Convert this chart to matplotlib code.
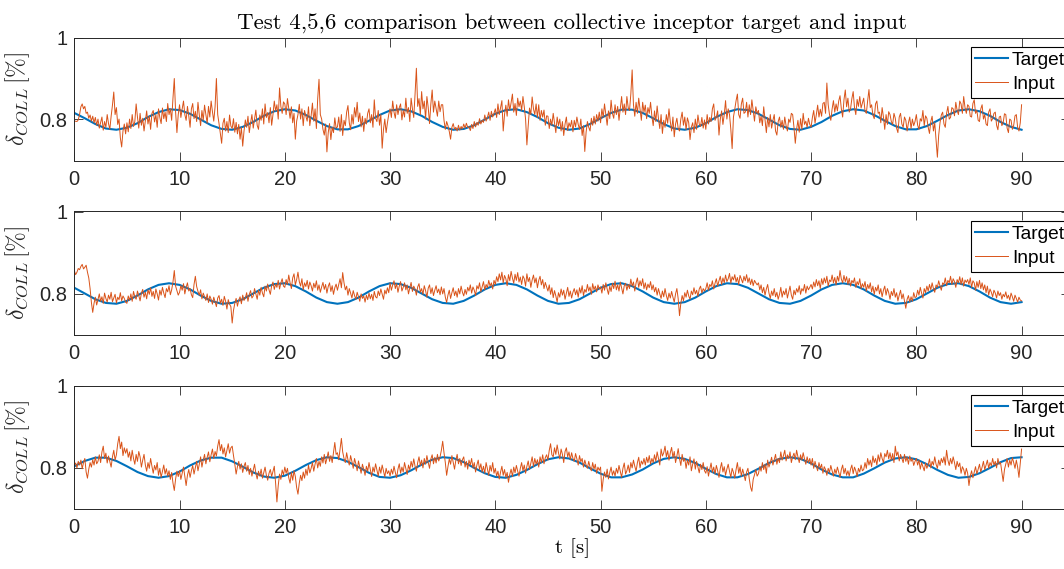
import numpy as np
import matplotlib
matplotlib.use('Agg')
import matplotlib.pyplot as plt

plt.rcParams['font.family'] = ['Liberation Sans', 'DejaVu Sans']
plt.rcParams['mathtext.fontset'] = 'cm'

###########################
# target signals, sampled every 1 s (t = 0..90)
t_target = np.arange(0, 91, 1.0)

target1 = [0.816, 0.803, 0.789, 0.778, 0.775, 0.780, 0.791, 0.806, 0.818, 0.825,
           0.823, 0.814, 0.800, 0.786, 0.777, 0.775, 0.782, 0.794, 0.809, 0.820,
           0.825, 0.822, 0.811, 0.797, 0.784, 0.776, 0.776, 0.784, 0.797, 0.811,
           0.822, 0.825, 0.820, 0.809, 0.794, 0.782, 0.775, 0.777, 0.786, 0.800,
           0.814, 0.823, 0.825, 0.818, 0.806, 0.791, 0.780, 0.775, 0.778, 0.789,
           0.803, 0.816, 0.824, 0.824, 0.816, 0.803, 0.789, 0.778, 0.775, 0.780,
           0.791, 0.806, 0.818, 0.825, 0.823, 0.814, 0.800, 0.786, 0.777, 0.775,
           0.782, 0.794, 0.809, 0.820, 0.825, 0.822, 0.811, 0.797, 0.784, 0.776,
           0.776, 0.784, 0.797, 0.811, 0.822, 0.825, 0.820, 0.809, 0.794, 0.782,
           0.775]

target2 = [0.814, 0.800, 0.786, 0.777, 0.775, 0.782, 0.795, 0.810, 0.821, 0.825,
           0.821, 0.810, 0.795, 0.782, 0.775, 0.777, 0.786, 0.800, 0.814, 0.823,
           0.825, 0.818, 0.805, 0.790, 0.779, 0.775, 0.779, 0.790, 0.805, 0.818,
           0.825, 0.823, 0.814, 0.800, 0.786, 0.777, 0.775, 0.782, 0.795, 0.810,
           0.821, 0.825, 0.821, 0.810, 0.795, 0.782, 0.775, 0.777, 0.786, 0.800,
           0.814, 0.823, 0.825, 0.818, 0.805, 0.790, 0.779, 0.775, 0.779, 0.790,
           0.805, 0.818, 0.825, 0.823, 0.814, 0.800, 0.786, 0.777, 0.775, 0.782,
           0.795, 0.810, 0.821, 0.825, 0.821, 0.810, 0.795, 0.782, 0.775, 0.777,
           0.786, 0.800, 0.814, 0.823, 0.825, 0.818, 0.805, 0.790, 0.779, 0.775,
           0.779]

target3 = [0.803, 0.816, 0.824, 0.824, 0.816, 0.803, 0.789, 0.779, 0.775, 0.779,
           0.790, 0.805, 0.817, 0.824, 0.824, 0.815, 0.802, 0.788, 0.778, 0.775,
           0.780, 0.792, 0.806, 0.818, 0.825, 0.823, 0.814, 0.801, 0.787, 0.777,
           0.775, 0.781, 0.793, 0.807, 0.819, 0.825, 0.823, 0.813, 0.799, 0.786,
           0.777, 0.775, 0.782, 0.794, 0.808, 0.820, 0.825, 0.822, 0.812, 0.798,
           0.785, 0.776, 0.776, 0.783, 0.795, 0.810, 0.821, 0.825, 0.821, 0.811,
           0.797, 0.784, 0.776, 0.776, 0.784, 0.797, 0.811, 0.821, 0.825, 0.821,
           0.810, 0.795, 0.783, 0.776, 0.776, 0.785, 0.798, 0.812, 0.822, 0.825,
           0.820, 0.808, 0.794, 0.782, 0.775, 0.777, 0.786, 0.799, 0.813, 0.823,
           0.825]

###########################
# pilot input, sampled every 0.125 s (t = 0..90), 40 values per 5 s
input1 = [
    # 0-5 s
    0.795, 0.796, 0.795, 0.799, 0.812, 0.831, 0.838, 0.826, 0.832, 0.815,
    0.818, 0.803, 0.811, 0.796, 0.808, 0.792, 0.805, 0.786, 0.801, 0.779,
    0.792, 0.806, 0.774, 0.795, 0.781, 0.812, 0.790, 0.776, 0.808, 0.835,
    0.867, 0.812, 0.829, 0.788, 0.801, 0.755, 0.733, 0.772, 0.789, 0.765,
    # 5-10 s
    0.792, 0.770, 0.801, 0.778, 0.812, 0.783, 0.795, 0.838, 0.806, 0.779,
    0.815, 0.786, 0.803, 0.772, 0.797, 0.821, 0.789, 0.808, 0.776, 0.815,
    0.822, 0.794, 0.812, 0.781, 0.826, 0.805, 0.790, 0.828, 0.802, 0.818,
    0.795, 0.839, 0.812, 0.826, 0.798, 0.852, 0.900, 0.818, 0.768, 0.812,
    # 10-15 s
    0.836, 0.805, 0.826, 0.845, 0.812, 0.798, 0.832, 0.809, 0.781, 0.826,
    0.839, 0.802, 0.820, 0.795, 0.842, 0.811, 0.785, 0.822, 0.798, 0.835,
    0.812, 0.791, 0.832, 0.806, 0.845, 0.819, 0.796, 0.831, 0.900, 0.812,
    0.790, 0.765, 0.742, 0.791, 0.803, 0.772, 0.795, 0.768, 0.811, 0.784,
    # 15-20 s
    0.778, 0.802, 0.769, 0.793, 0.765, 0.788, 0.752, 0.781, 0.735, 0.772,
    0.799, 0.781, 0.808, 0.768, 0.792, 0.812, 0.779, 0.801, 0.823, 0.786,
    0.776, 0.811, 0.798, 0.826, 0.789, 0.838, 0.805, 0.817, 0.792, 0.829,
    0.786, 0.812, 0.845, 0.821, 0.836, 0.801, 0.877, 0.832, 0.815, 0.843,
    # 20-25 s
    0.838, 0.812, 0.851, 0.826, 0.803, 0.831, 0.792, 0.815, 0.752, 0.796,
    0.812, 0.837, 0.801, 0.826, 0.785, 0.822, 0.808, 0.796, 0.831, 0.785,
    0.809, 0.840, 0.796, 0.826, 0.778, 0.851, 0.898, 0.812, 0.801, 0.776,
    0.762, 0.789, 0.721, 0.768, 0.790, 0.751, 0.781, 0.768, 0.804, 0.779,
    # 25-30 s
    0.782, 0.806, 0.771, 0.812, 0.761, 0.798, 0.785, 0.818, 0.834, 0.792,
    0.775, 0.812, 0.789, 0.829, 0.806, 0.842, 0.795, 0.816, 0.782, 0.808,
    0.771, 0.803, 0.789, 0.815, 0.826, 0.792, 0.812, 0.781, 0.848, 0.803,
    0.795, 0.822, 0.786, 0.812, 0.730, 0.776, 0.801, 0.768, 0.792, 0.812,
    # 30-35 s
    0.826, 0.805, 0.845, 0.818, 0.803, 0.836, 0.812, 0.829, 0.838, 0.799,
    0.822, 0.806, 0.852, 0.815, 0.829, 0.795, 0.852, 0.826, 0.805, 0.862,
    0.925, 0.832, 0.851, 0.812, 0.868, 0.826, 0.845, 0.801, 0.856, 0.829,
    0.790, 0.838, 0.872, 0.818, 0.845, 0.826, 0.808, 0.845, 0.819, 0.836,
    # 35-40 s
    0.836, 0.798, 0.776, 0.795, 0.785, 0.771, 0.752, 0.781, 0.790, 0.776,
    0.781, 0.772, 0.786, 0.774, 0.783, 0.777, 0.789, 0.779, 0.791, 0.781,
    0.782, 0.773, 0.788, 0.778, 0.795, 0.782, 0.793, 0.786, 0.802, 0.789,
    0.798, 0.793, 0.811, 0.796, 0.805, 0.818, 0.798, 0.820, 0.806, 0.815,
    # 40-45 s
    0.826, 0.805, 0.838, 0.812, 0.829, 0.846, 0.772, 0.812, 0.835, 0.808,
    0.848, 0.822, 0.841, 0.862, 0.818, 0.839, 0.810, 0.852, 0.831, 0.845,
    0.822, 0.856, 0.831, 0.801, 0.738, 0.785, 0.828, 0.812, 0.855, 0.826,
    0.812, 0.838, 0.805, 0.836, 0.798, 0.822, 0.806, 0.823, 0.786, 0.809,
    # 45-50 s
    0.808, 0.778, 0.801, 0.786, 0.815, 0.792, 0.768, 0.806, 0.785, 0.801,
    0.772, 0.795, 0.761, 0.789, 0.806, 0.773, 0.792, 0.782, 0.798, 0.770,
    0.798, 0.782, 0.806, 0.788, 0.776, 0.801, 0.761, 0.785, 0.722, 0.769,
    0.795, 0.781, 0.772, 0.803, 0.786, 0.808, 0.789, 0.812, 0.796, 0.818,
    # 50-55 s
    0.792, 0.826, 0.805, 0.838, 0.812, 0.786, 0.821, 0.802, 0.847, 0.815,
    0.803, 0.836, 0.812, 0.832, 0.798, 0.826, 0.856, 0.818, 0.838, 0.812,
    0.856, 0.829, 0.822, 0.862, 0.921, 0.836, 0.808, 0.842, 0.815, 0.852,
    0.826, 0.798, 0.842, 0.818, 0.835, 0.802, 0.829, 0.815, 0.842, 0.808,
    # 55-60 s
    0.785, 0.821, 0.795, 0.833, 0.802, 0.778, 0.812, 0.766, 0.798, 0.781,
    0.812, 0.791, 0.826, 0.795, 0.772, 0.806, 0.758, 0.789, 0.803, 0.778,
    0.772, 0.801, 0.818, 0.786, 0.806, 0.775, 0.804, 0.792, 0.751, 0.781,
    0.792, 0.768, 0.801, 0.776, 0.811, 0.789, 0.783, 0.805, 0.779, 0.799,
    # 60-65 s
    0.776, 0.812, 0.789, 0.805, 0.795, 0.826, 0.838, 0.798, 0.806, 0.821,
    0.762, 0.801, 0.821, 0.788, 0.812, 0.846, 0.801, 0.826, 0.812, 0.776,
    0.729, 0.806, 0.825, 0.846, 0.862, 0.812, 0.803, 0.838, 0.852, 0.815,
    0.818, 0.842, 0.806, 0.836, 0.812, 0.848, 0.821, 0.796, 0.831, 0.815,
    # 65-70 s
    0.822, 0.792, 0.808, 0.785, 0.831, 0.799, 0.768, 0.805, 0.782, 0.812,
    0.779, 0.798, 0.812, 0.772, 0.762, 0.795, 0.806, 0.781, 0.798, 0.776,
    0.806, 0.785, 0.772, 0.801, 0.793, 0.815, 0.812, 0.781, 0.742, 0.776,
    0.798, 0.769, 0.802, 0.776, 0.815, 0.788, 0.796, 0.781, 0.803, 0.788,
    # 70-75 s
    0.781, 0.805, 0.822, 0.791, 0.812, 0.835, 0.806, 0.825, 0.808, 0.839,
    0.842, 0.815, 0.889, 0.836, 0.812, 0.798, 0.826, 0.846, 0.818, 0.838,
    0.821, 0.845, 0.858, 0.826, 0.806, 0.848, 0.872, 0.831, 0.852, 0.818,
    0.826, 0.851, 0.868, 0.829, 0.812, 0.849, 0.832, 0.856, 0.828, 0.840,
    # 75-80 s
    0.852, 0.821, 0.815, 0.846, 0.873, 0.829, 0.836, 0.811, 0.802, 0.838,
    0.845, 0.815, 0.818, 0.792, 0.829, 0.806, 0.776, 0.812, 0.788, 0.819,
    0.812, 0.795, 0.788, 0.815, 0.803, 0.779, 0.768, 0.806, 0.815, 0.789,
    0.781, 0.806, 0.798, 0.772, 0.792, 0.806, 0.778, 0.801, 0.785, 0.795,
    # 80-85 s
    0.812, 0.786, 0.776, 0.802, 0.796, 0.822, 0.785, 0.809, 0.803, 0.781,
    0.766, 0.795, 0.808, 0.772, 0.792, 0.751, 0.708, 0.762, 0.792, 0.811,
    0.818, 0.789, 0.781, 0.815, 0.832, 0.801, 0.805, 0.829, 0.826, 0.809,
    0.842, 0.822, 0.812, 0.845, 0.838, 0.815, 0.856, 0.829, 0.815, 0.836,
    # 85-90 s
    0.832, 0.808, 0.806, 0.839, 0.848, 0.815, 0.822, 0.798, 0.795, 0.826,
    0.836, 0.801, 0.812, 0.789, 0.785, 0.818, 0.826, 0.796, 0.802, 0.815,
    0.818, 0.786, 0.775, 0.806, 0.808, 0.785, 0.792, 0.814, 0.812, 0.779,
    0.768, 0.801, 0.798, 0.776, 0.786, 0.809, 0.812, 0.781, 0.772, 0.792,
    0.836]

input2 = [
    # 0-5 s
    0.856, 0.846, 0.852, 0.861, 0.858, 0.866, 0.871, 0.860, 0.864, 0.869,
    0.852, 0.838, 0.812, 0.778, 0.754, 0.776, 0.791, 0.772, 0.785, 0.799,
    0.781, 0.792, 0.776, 0.801, 0.788, 0.779, 0.796, 0.786, 0.803, 0.780,
    0.789, 0.798, 0.777, 0.791, 0.785, 0.802, 0.782, 0.794, 0.788, 0.779,
    # 5-10 s
    0.776, 0.794, 0.783, 0.799, 0.781, 0.805, 0.792, 0.786, 0.806, 0.795,
    0.782, 0.801, 0.810, 0.791, 0.803, 0.787, 0.809, 0.798, 0.814, 0.793,
    0.805, 0.788, 0.811, 0.799, 0.784, 0.808, 0.796, 0.815, 0.801, 0.790,
    0.812, 0.804, 0.819, 0.797, 0.809, 0.828, 0.856, 0.818, 0.807, 0.796,
    # 10-15 s
    0.803, 0.819, 0.808, 0.824, 0.799, 0.815, 0.826, 0.806, 0.812, 0.797,
    0.790, 0.822, 0.842, 0.817, 0.805, 0.796, 0.809, 0.787, 0.801, 0.792,
    0.783, 0.799, 0.778, 0.794, 0.786, 0.774, 0.791, 0.779, 0.768, 0.789,
    0.795, 0.776, 0.786, 0.771, 0.793, 0.781, 0.762, 0.785, 0.774, 0.768,
    # 15-20 s
    0.728, 0.759, 0.776, 0.788, 0.769, 0.784, 0.792, 0.775, 0.796, 0.783,
    0.789, 0.802, 0.781, 0.798, 0.807, 0.789, 0.794, 0.812, 0.799, 0.786,
    0.808, 0.796, 0.815, 0.801, 0.792, 0.818, 0.806, 0.823, 0.809, 0.798,
    0.819, 0.828, 0.810, 0.823, 0.815, 0.832, 0.811, 0.826, 0.836, 0.818,
    # 20-25 s
    0.815, 0.834, 0.822, 0.845, 0.826, 0.812, 0.838, 0.848, 0.821, 0.834,
    0.852, 0.829, 0.818, 0.836, 0.809, 0.826, 0.817, 0.832, 0.811, 0.828,
    0.819, 0.806, 0.825, 0.814, 0.831, 0.808, 0.821, 0.803, 0.816, 0.827,
    0.810, 0.822, 0.801, 0.817, 0.826, 0.805, 0.819, 0.798, 0.814, 0.823,
    # 25-30 s
    0.808, 0.822, 0.836, 0.814, 0.851, 0.826, 0.809, 0.818, 0.796, 0.812,
    0.801, 0.789, 0.807, 0.795, 0.786, 0.803, 0.792, 0.781, 0.799, 0.788,
    0.794, 0.779, 0.796, 0.785, 0.801, 0.787, 0.798, 0.783, 0.805, 0.792,
    0.789, 0.806, 0.795, 0.811, 0.798, 0.786, 0.808, 0.799, 0.814, 0.802,
    # 30-35 s
    0.826, 0.808, 0.821, 0.831, 0.812, 0.824, 0.803, 0.818, 0.829, 0.806,
    0.815, 0.826, 0.809, 0.821, 0.799, 0.814, 0.827, 0.805, 0.818, 0.811,
    0.796, 0.816, 0.824, 0.803, 0.812, 0.798, 0.819, 0.807, 0.791, 0.813,
    0.821, 0.800, 0.814, 0.795, 0.808, 0.819, 0.802, 0.811, 0.797, 0.816,
    # 35-40 s
    0.799, 0.812, 0.791, 0.778, 0.796, 0.808, 0.788, 0.802, 0.814, 0.795,
    0.806, 0.791, 0.812, 0.799, 0.818, 0.803, 0.794, 0.810, 0.798, 0.815,
    0.806, 0.821, 0.801, 0.816, 0.808, 0.795, 0.819, 0.811, 0.826, 0.804,
    0.817, 0.829, 0.809, 0.822, 0.814, 0.832, 0.818, 0.826, 0.811, 0.832,
    # 40-45 s
    0.822, 0.841, 0.829, 0.848, 0.833, 0.852, 0.826, 0.844, 0.836, 0.819,
    0.846, 0.831, 0.854, 0.838, 0.825, 0.847, 0.832, 0.851, 0.828, 0.840,
    0.822, 0.843, 0.836, 0.818, 0.848, 0.829, 0.839, 0.815, 0.833, 0.845,
    0.826, 0.838, 0.814, 0.832, 0.842, 0.821, 0.834, 0.812, 0.827, 0.816,
    # 45-50 s
    0.806, 0.821, 0.798, 0.814, 0.790, 0.807, 0.794, 0.779, 0.802, 0.791,
    0.811, 0.796, 0.808, 0.786, 0.801, 0.815, 0.793, 0.806, 0.789, 0.803,
    0.812, 0.797, 0.809, 0.791, 0.814, 0.801, 0.819, 0.795, 0.810, 0.803,
    0.822, 0.806, 0.816, 0.798, 0.824, 0.809, 0.818, 0.804, 0.821, 0.811,
    # 50-55 s
    0.816, 0.801, 0.822, 0.808, 0.826, 0.811, 0.798, 0.818, 0.805, 0.825,
    0.812, 0.830, 0.809, 0.821, 0.806, 0.828, 0.814, 0.799, 0.819, 0.825,
    0.808, 0.822, 0.812, 0.835, 0.818, 0.828, 0.806, 0.826, 0.838, 0.815,
    0.831, 0.819, 0.836, 0.812, 0.826, 0.809, 0.823, 0.814, 0.829, 0.809,
    # 55-60 s
    0.821, 0.804, 0.815, 0.796, 0.812, 0.799, 0.788, 0.806, 0.792, 0.812,
    0.795, 0.783, 0.801, 0.789, 0.805, 0.791, 0.779, 0.799, 0.812, 0.787,
    0.746, 0.776, 0.795, 0.782, 0.802, 0.791, 0.808, 0.794, 0.786, 0.806,
    0.797, 0.814, 0.799, 0.808, 0.793, 0.811, 0.818, 0.801, 0.812, 0.806,
    # 60-65 s
    0.812, 0.826, 0.808, 0.822, 0.817, 0.831, 0.811, 0.825, 0.836, 0.818,
    0.831, 0.842, 0.822, 0.838, 0.826, 0.845, 0.829, 0.836, 0.849, 0.825,
    0.841, 0.833, 0.846, 0.828, 0.839, 0.822, 0.844, 0.835, 0.826, 0.842,
    0.831, 0.846, 0.827, 0.838, 0.822, 0.835, 0.819, 0.832, 0.826, 0.821,
    # 65-70 s
    0.826, 0.809, 0.821, 0.802, 0.815, 0.796, 0.811, 0.822, 0.801, 0.788,
    0.806, 0.795, 0.812, 0.792, 0.803, 0.786, 0.798, 0.815, 0.791, 0.806,
    0.797, 0.812, 0.789, 0.803, 0.818, 0.796, 0.786, 0.808, 0.797, 0.812,
    0.803, 0.819, 0.798, 0.812, 0.806, 0.822, 0.801, 0.818, 0.809, 0.815,
    # 70-75 s
    0.822, 0.811, 0.828, 0.816, 0.834, 0.819, 0.831, 0.812, 0.836, 0.822,
    0.838, 0.826, 0.842, 0.818, 0.833, 0.829, 0.845, 0.826, 0.839, 0.821,
    0.842, 0.830, 0.856, 0.835, 0.826, 0.844, 0.829, 0.841, 0.822, 0.837,
    0.818, 0.832, 0.826, 0.838, 0.815, 0.829, 0.821, 0.836, 0.812, 0.824,
    # 75-80 s
    0.815, 0.829, 0.806, 0.822, 0.812, 0.826, 0.804, 0.818, 0.798, 0.815,
    0.806, 0.821, 0.799, 0.812, 0.792, 0.808, 0.818, 0.796, 0.812, 0.802,
    0.786, 0.805, 0.795, 0.812, 0.791, 0.802, 0.782, 0.796, 0.808, 0.787,
    0.799, 0.781, 0.764, 0.786, 0.795, 0.779, 0.792, 0.781, 0.802, 0.790,
    # 80-85 s
    0.792, 0.808, 0.796, 0.815, 0.801, 0.789, 0.812, 0.802, 0.818, 0.806,
    0.822, 0.809, 0.826, 0.812, 0.803, 0.821, 0.815, 0.831, 0.818, 0.808,
    0.826, 0.822, 0.838, 0.819, 0.832, 0.826, 0.842, 0.822, 0.836, 0.829,
    0.815, 0.834, 0.826, 0.841, 0.822, 0.838, 0.818, 0.833, 0.827, 0.834,
    # 85-90 s
    0.822, 0.838, 0.815, 0.831, 0.826, 0.808, 0.829, 0.815, 0.832, 0.812,
    0.826, 0.809, 0.821, 0.802, 0.818, 0.796, 0.811, 0.803, 0.792, 0.808,
    0.801, 0.789, 0.806, 0.795, 0.802, 0.786, 0.798, 0.792, 0.804, 0.788,
    0.796, 0.784, 0.801, 0.792, 0.781, 0.796, 0.788, 0.779, 0.791, 0.784,
    0.782]

input3 = [
    # 0-5 s
    0.805, 0.811, 0.799, 0.815, 0.806, 0.818, 0.797, 0.812, 0.822, 0.789,
    0.774, 0.796, 0.812, 0.801, 0.819, 0.806, 0.826, 0.809, 0.815, 0.831,
    0.812, 0.838, 0.852, 0.822, 0.835, 0.811, 0.828, 0.815, 0.801, 0.826,
    0.842, 0.818, 0.831, 0.858, 0.876, 0.846, 0.862, 0.829, 0.848, 0.835,
    # 5-10 s
    0.846, 0.825, 0.838, 0.816, 0.842, 0.822, 0.808, 0.832, 0.815, 0.839,
    0.826, 0.801, 0.818, 0.832, 0.806, 0.791, 0.812, 0.798, 0.822, 0.803,
    0.786, 0.805, 0.794, 0.812, 0.781, 0.798, 0.776, 0.791, 0.806, 0.784,
    0.797, 0.779, 0.792, 0.771, 0.788, 0.762, 0.744, 0.772, 0.791, 0.778,
    # 10-15 s
    0.792, 0.771, 0.786, 0.801, 0.778, 0.756, 0.781, 0.795, 0.776, 0.792,
    0.805, 0.784, 0.799, 0.815, 0.792, 0.808, 0.826, 0.801, 0.818, 0.832,
    0.809, 0.825, 0.838, 0.814, 0.831, 0.845, 0.822, 0.839, 0.828, 0.852,
    0.868, 0.841, 0.856, 0.833, 0.848, 0.826, 0.842, 0.858, 0.835, 0.848,
    # 15-20 s
    0.852, 0.829, 0.808, 0.784, 0.802, 0.815, 0.796, 0.809, 0.788, 0.803,
    0.812, 0.791, 0.805, 0.783, 0.798, 0.779, 0.794, 0.808, 0.786, 0.772,
    0.791, 0.779, 0.796, 0.774, 0.788, 0.801, 0.781, 0.769, 0.786, 0.795,
    0.778, 0.791, 0.803, 0.762, 0.716, 0.756, 0.784, 0.771, 0.794, 0.782,
    # 20-25 s
    0.801, 0.786, 0.798, 0.775, 0.762, 0.788, 0.769, 0.792, 0.778, 0.751,
    0.735, 0.762, 0.781, 0.768, 0.789, 0.774, 0.796, 0.781, 0.806, 0.787,
    0.798, 0.812, 0.791, 0.808, 0.822, 0.799, 0.815, 0.803, 0.826, 0.811,
    0.832, 0.809, 0.822, 0.838, 0.815, 0.829, 0.812, 0.836, 0.861, 0.832,
    # 25-30 s
    0.836, 0.819, 0.845, 0.871, 0.838, 0.822, 0.812, 0.836, 0.819, 0.806,
    0.829, 0.815, 0.798, 0.822, 0.809, 0.792, 0.816, 0.801, 0.786, 0.808,
    0.796, 0.781, 0.803, 0.791, 0.812, 0.795, 0.778, 0.801, 0.789, 0.809,
    0.794, 0.779, 0.801, 0.786, 0.806, 0.791, 0.777, 0.798, 0.785, 0.792,
    # 30-35 s
    0.779, 0.796, 0.784, 0.803, 0.788, 0.775, 0.796, 0.809, 0.786, 0.801,
    0.789, 0.812, 0.797, 0.783, 0.806, 0.794, 0.815, 0.801, 0.821, 0.803,
    0.791, 0.812, 0.826, 0.805, 0.818, 0.799, 0.822, 0.808, 0.829, 0.812,
    0.798, 0.821, 0.831, 0.809, 0.825, 0.811, 0.832, 0.816, 0.826, 0.842,
    # 35-40 s
    0.864, 0.836, 0.812, 0.781, 0.802, 0.821, 0.808, 0.829, 0.812, 0.796,
    0.818, 0.832, 0.809, 0.822, 0.805, 0.819, 0.826, 0.801, 0.815, 0.796,
    0.818, 0.806, 0.822, 0.799, 0.812, 0.789, 0.806, 0.818, 0.795, 0.809,
    0.789, 0.803, 0.786, 0.812, 0.796, 0.781, 0.805, 0.791, 0.812, 0.786,
    # 40-45 s
    0.798, 0.779, 0.791, 0.772, 0.789, 0.803, 0.781, 0.795, 0.776, 0.788,
    0.764, 0.783, 0.796, 0.778, 0.801, 0.787, 0.805, 0.791, 0.779, 0.798,
    0.812, 0.792, 0.806, 0.786, 0.803, 0.816, 0.795, 0.811, 0.826, 0.802,
    0.822, 0.808, 0.819, 0.801, 0.826, 0.812, 0.831, 0.809, 0.824, 0.831,
    # 45-50 s
    0.818, 0.842, 0.858, 0.831, 0.826, 0.848, 0.832, 0.855, 0.836, 0.821,
    0.845, 0.832, 0.812, 0.839, 0.848, 0.826, 0.838, 0.819, 0.836, 0.822,
    0.815, 0.834, 0.821, 0.806, 0.829, 0.814, 0.822, 0.801, 0.818, 0.806,
    0.798, 0.815, 0.801, 0.792, 0.812, 0.796, 0.808, 0.786, 0.801, 0.793,
    # 50-55 s
    0.801, 0.742, 0.771, 0.789, 0.776, 0.796, 0.772, 0.788, 0.801, 0.781,
    0.792, 0.779, 0.798, 0.786, 0.805, 0.791, 0.776, 0.798, 0.811, 0.784,
    0.792, 0.806, 0.788, 0.812, 0.799, 0.818, 0.803, 0.791, 0.812, 0.825,
    0.799, 0.816, 0.808, 0.822, 0.806, 0.825, 0.812, 0.829, 0.808, 0.822,
    # 55-60 s
    0.812, 0.831, 0.815, 0.838, 0.822, 0.806, 0.845, 0.828, 0.836, 0.852,
    0.826, 0.841, 0.818, 0.836, 0.849, 0.824, 0.839, 0.812, 0.828, 0.846,
    0.822, 0.805, 0.832, 0.815, 0.822, 0.798, 0.818, 0.806, 0.826, 0.792,
    0.808, 0.821, 0.796, 0.815, 0.801, 0.787, 0.808, 0.795, 0.812, 0.792,
    # 60-65 s
    0.786, 0.802, 0.779, 0.796, 0.811, 0.788, 0.801, 0.784, 0.805, 0.792,
    0.776, 0.798, 0.812, 0.789, 0.802, 0.781, 0.796, 0.808, 0.791, 0.776,
    0.798, 0.788, 0.774, 0.795, 0.812, 0.786, 0.801, 0.779, 0.796, 0.783,
    0.768, 0.789, 0.798, 0.773, 0.752, 0.742, 0.771, 0.782, 0.795, 0.779,
    # 65-70 s
    0.785, 0.802, 0.791, 0.812, 0.795, 0.808, 0.786, 0.818, 0.801, 0.812,
    0.825, 0.806, 0.819, 0.832, 0.808, 0.822, 0.812, 0.838, 0.818, 0.829,
    0.842, 0.816, 0.831, 0.822, 0.838, 0.812, 0.826, 0.835, 0.819, 0.842,
    0.826, 0.812, 0.831, 0.818, 0.836, 0.821, 0.808, 0.826, 0.812, 0.822,
    # 70-75 s
    0.806, 0.822, 0.798, 0.815, 0.802, 0.792, 0.812, 0.798, 0.808, 0.786,
    0.802, 0.795, 0.781, 0.798, 0.788, 0.805, 0.792, 0.779, 0.796, 0.785,
    0.801, 0.789, 0.776, 0.795, 0.806, 0.785, 0.798, 0.781, 0.792, 0.779,
    0.796, 0.806, 0.785, 0.801, 0.792, 0.778, 0.798, 0.789, 0.806, 0.792,
    # 75-80 s
    0.795, 0.812, 0.798, 0.822, 0.806, 0.818, 0.802, 0.828, 0.812, 0.822,
    0.806, 0.831, 0.815, 0.836, 0.822, 0.812, 0.834, 0.826, 0.842, 0.821,
    0.836, 0.818, 0.834, 0.812, 0.852, 0.829, 0.838, 0.816, 0.832, 0.822,
    0.812, 0.832, 0.815, 0.826, 0.808, 0.828, 0.815, 0.822, 0.805, 0.815,
    # 80-85 s
    0.822, 0.806, 0.818, 0.796, 0.812, 0.802, 0.792, 0.811, 0.798, 0.806,
    0.821, 0.799, 0.815, 0.806, 0.826, 0.808, 0.798, 0.818, 0.805, 0.822,
    0.812, 0.826, 0.806, 0.842, 0.818, 0.805, 0.822, 0.809, 0.826, 0.812,
    0.795, 0.815, 0.802, 0.811, 0.786, 0.802, 0.795, 0.781, 0.798, 0.786,
    # 85-90 s
    0.756, 0.779, 0.792, 0.775, 0.788, 0.802, 0.784, 0.796, 0.808, 0.789,
    0.801, 0.815, 0.795, 0.806, 0.818, 0.798, 0.812, 0.804, 0.822, 0.806,
    0.815, 0.799, 0.822, 0.808, 0.812, 0.789, 0.766, 0.795, 0.808, 0.822,
    0.801, 0.818, 0.806, 0.824, 0.812, 0.798, 0.818, 0.801, 0.776, 0.812,
    0.845]

targets = [target1, target2, target3]
inputs = [input1, input2, input3]

x_ticks = [0, 10, 20, 30, 40, 50, 60, 70, 80, 90]
y_ticks = [0.8, 1]
y_ticklabels = ['0.8', '1']

###########################
blue = '#0072BD'
orange = '#D95319'
axcol = '#262626'

fig = plt.figure(figsize=(10.64, 5.69), dpi=100)

# axes boxes in pixels (left, top) -> figure fractions; right edge runs past the image
left = 74.3 / 1064
width = (1070 - 74.3) / 1064
height = 123 / 569
tops = [37.5, 211.5, 385.5]

axes = []
for i in range(3):
    bottom = 1 - (tops[i] + 123) / 569
    ax = fig.add_axes([left, bottom, width, height])
    t_in = np.arange(len(inputs[i])) * 0.125
    ax.plot(t_target, targets[i], color=blue, lw=1.5, label='Target')
    ax.plot(t_in, inputs[i], color=orange, lw=0.7, label='Input')
    ax.set_xlim(0, 94.6)
    ax.set_ylim(0.7, 1)
    ax.set_xticks(x_ticks)
    ax.set_yticks(y_ticks)
    ax.set_yticklabels(y_ticklabels)
    ax.tick_params(direction='in', top=True, right=True, length=6.5, width=0.6,
                   color=axcol, labelcolor=axcol, labelsize=14.5, pad=5)
    ax.tick_params(axis='x', pad=7)
    for s in ax.spines.values():
        s.set_color(axcol)
        s.set_linewidth(0.7)
    ax.set_ylabel(r'$\delta_{COLL}\,[\%]$', fontsize=17, color=axcol, labelpad=5)

    # legend box, upper left corner placed in figure pixels
    leg = ax.legend(loc='upper left',
                    bbox_to_anchor=(970.7 / 1064, 1 - (tops[i] + 9.2) / 569),
                    bbox_transform=fig.transFigure, borderaxespad=0,
                    fontsize=13.8, handlelength=1.7, handletextpad=0.2,
                    borderpad=0.25, labelspacing=0.35, fancybox=False,
                    framealpha=1, edgecolor='black')
    leg.get_frame().set_linewidth(0.8)
    axes.append(ax)

axes[0].set_title('Test 4,5,6 comparison between collective inceptor target and input',
                  fontfamily='cmr10', fontsize=16.5, pad=6)
axes[2].set_xlabel('t [s]', fontfamily='cmr10', fontsize=15, labelpad=1)

plt.savefig('out.png', dpi=100)
